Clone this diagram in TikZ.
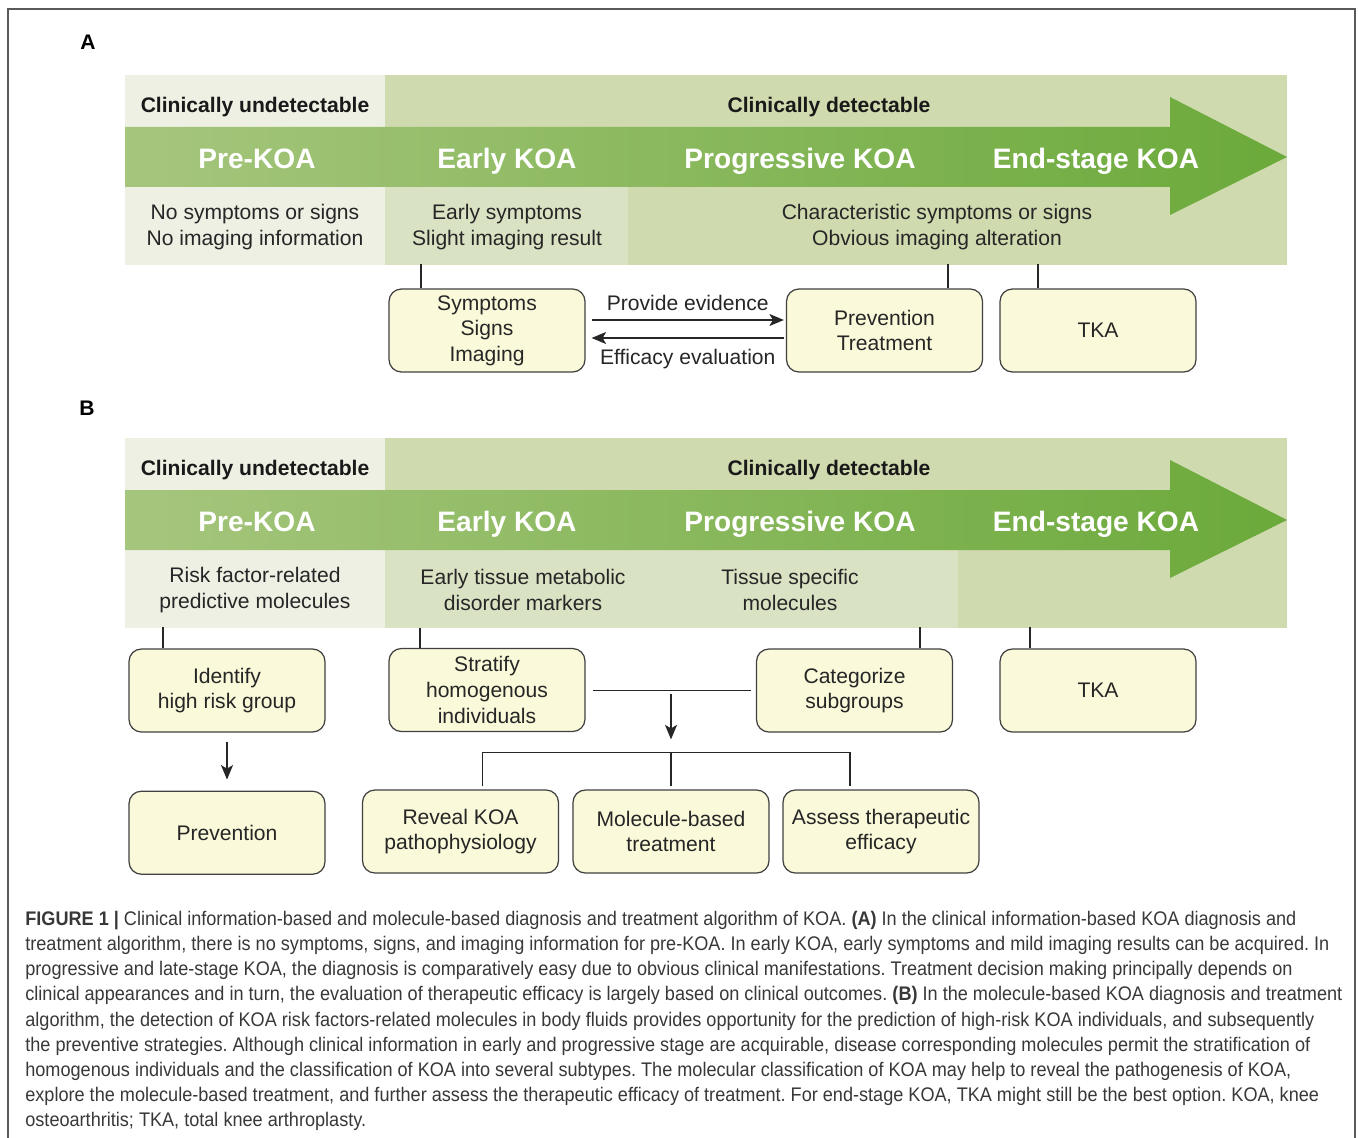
\documentclass[tikz,border=0pt]{standalone}
\usepackage{fontspec}
\setmainfont{Liberation Sans}
\newfontfamily\capfont[FakeStretch=0.92]{Liberation Sans}
\usetikzlibrary{arrows.meta,positioning}

\begin{document}
\begin{tikzpicture}[x=0.02cm,y=-0.02cm,
	box/.style={draw=boxline,fill=boxfill,rounded corners=7pt,line width=0.7pt,minimum width=3.92cm,minimum height=1.66cm,align=center,text=black!85,font=\fontsize{12}{14.6}\selectfont},
	stage/.style={text=white,text height=11.4pt,text depth=0pt,font=\bfseries\fontsize{16}{18}\selectfont},
	hdr/.style={text=black!90,text height=8.6pt,text depth=0pt,font=\bfseries\fontsize{12}{14}\selectfont},
	info/.style={align=center,text=black!85,font=\fontsize{12}{14.6}\selectfont},
	panel/.style={text=black,font=\bfseries\fontsize{12}{14}\selectfont},
	link/.style={draw=black!85,line width=0.95pt},
	arr/.style={link,-{Stealth[length=2.9mm,width=2.4mm,inset=0.7mm]}}]
		    \definecolor{pale}{rgb}{0.93,0.94,0.89}
		    \definecolor{lightgreen}{rgb}{0.855,0.885,0.77}
		    \definecolor{midgreen}{rgb}{0.81,0.855,0.685}
		    \definecolor{bandleft}{rgb}{0.65,0.775,0.49}
		    \definecolor{bandright}{rgb}{0.42,0.665,0.23}
		    \definecolor{boxfill}{rgb}{0.98,0.975,0.855}
		    \definecolor{boxline}{rgb}{0.25,0.25,0.25}
		    \definecolor{capgray}{rgb}{0.22,0.22,0.22}
		    \definecolor{framegray}{rgb}{0.35,0.35,0.35}
		    \useasboundingbox (0,0) rectangle (1358,1138);
		    \draw[framegray,line width=0.8pt] (8,1138) -- (8,9) -- (1355,9) -- (1355,1138);

		    \foreach \oy/\p/\xl in {0/a/628,363/b/958}{
			  \fill[pale] (125,75+\oy) rectangle (385,265+\oy);
			  \fill[midgreen] (385,75+\oy) rectangle (1287,265+\oy);
			  \fill[lightgreen] (385,187+\oy) rectangle (\xl,265+\oy);
			  \shade[left color=bandleft,right color=bandright] (125,127+\oy) -- (1170,127+\oy) -- (1170,97+\oy) -- (1287,157+\oy) -- (1170,215+\oy) -- (1170,187+\oy) -- (125,187+\oy) -- cycle;
			  \node[hdr] (undet\p) at (255,104.5+\oy) {Clinically undetectable};
			  \node[hdr] (det\p) at (829,104.5+\oy) {Clinically detectable};
			  \node[stage] (pre\p) at (257,158.5+\oy) {Pre-KOA};
			  \node[stage] (early\p) at (507,158.5+\oy) {Early KOA};
			  \node[stage] (prog\p) at (800,158.5+\oy) {Progressive KOA};
			  \node[stage] (end\p) at (1096,158.5+\oy) {End-stage KOA};
			  }

		    \node[panel] (labela) at (88,42) {A};
		    \node[info] (infopre) at (255,227) {No symptoms or signs\\No imaging information};
		    \node[info] (infoearly) at (507,227) {Early symptoms\\Slight imaging result};
		    \node[info] (infoprog) at (937,227) {Characteristic symptoms or signs\\Obvious imaging alteration};

		    \node[box] (sympt) at (487,330.5) {Symptoms\\Signs\\Imaging};
		    \node[box] (prevtreat) at (884.5,330.5) {Prevention\\Treatment};
		    \node[box] (tkaa) at (1098,330.5) {TKA};

		    \draw[link] ([xshift=-1.32cm]sympt.north) -- ++(0,-24);
		    \draw[link] ([xshift=1.27cm]prevtreat.north) -- ++(0,-24);
		    \draw[link] ([xshift=-1.2cm]tkaa.north) -- ++(0,-24);
		    \draw[arr] ([shift={(6,-10.5)}]sympt.east) -- ([shift={(-2,-10.5)}]prevtreat.west) node[midway,above=1.5pt,info] {Provide evidence};
		    \draw[arr] ([shift={(-2,7.5)}]prevtreat.west) -- ([shift={(6,7.5)}]sympt.east) node[midway,below=2.5pt,info] {Efficacy evaluation};

		    \node[panel] (labelb) at (87,408) {B};
		    \node[info] (molpre) at (255,590) {Risk factor-related\\predictive molecules};
		    \node[info] (molearly) at (523,590) {Early tissue metabolic\\disorder markers};
		    \node[info] (molprog) at (790,590) {Tissue specific\\molecules};

		    \node[box] (identify) at (227,690.5) {Identify\\high risk group};
		    \node[box] (stratify) at (487,690) {Stratify\\homogenous\\individuals};
		    \node[box] (categ) at (854.5,690.5) {Categorize\\subgroups};
		    \node[box] (tkab) at (1098,690.5) {TKA};
		    \node[box,below=1.16cm of identify] (prevent) {Prevention};
		    \node[box] (reveal) at (460.5,831.5) {Reveal KOA\\pathophysiology};
		    \node[box] (molec) at (671,831.5) {Molecule-based\\treatment};
		    \node[box] (assess) at (881,831.5) {Assess therapeutic\\efficacy};

		    \draw[link] ([xshift=-1.28cm]identify.north) -- ++(0,-21);
		    \draw[link] ([xshift=-1.34cm]stratify.north) -- ++(0,-20);
		    \draw[link] ([xshift=1.31cm]categ.north) -- ++(0,-21);
		    \draw[link] ([xshift=-1.36cm]tkab.north) -- ++(0,-21);
		    \draw[arr] ([shift={(0,9)}]identify.south) -- ([shift={(0,-11)}]prevent.north);
		    \draw[link] ([shift={(-5,0)}]categ.west) -- ([shift={(7,0)}]categ.west -| stratify.east);
		    \coordinate (fork) at ([shift={(0,-37)}]molec.north);
		    \draw[arr] ([shift={(0,-58)}]fork) -- ([shift={(0,-13)}]fork);
		    \draw[link] ([shift={(22,-3)}]reveal.north) |- (fork) -| ([shift={(-31,-3)}]assess.north);
		    \draw[link] (fork) -- ([shift={(0,-3)}]molec.north);

		    \node[anchor=north west,inner sep=0pt,align=left,text=capgray,font=\capfont\fontsize{11.2}{14.3}\selectfont\frenchspacing] (caption) at (25,911) {\textbf{FIGURE 1 |} Clinical information-based and molecule-based diagnosis and treatment algorithm of KOA. \textbf{(A)} In the clinical information-based KOA diagnosis and\\
treatment algorithm, there is no symptoms, signs, and imaging information for pre-KOA. In early KOA, early symptoms and mild imaging results can be acquired. In\\
progressive and late-stage KOA, the diagnosis is comparatively easy due to obvious clinical manifestations. Treatment decision making principally depends on\\
clinical appearances and in turn, the evaluation of therapeutic efficacy is largely based on clinical outcomes. \textbf{(B)} In the molecule-based KOA diagnosis and treatment\\
algorithm, the detection of KOA risk factors-related molecules in body fluids provides opportunity for the prediction of high-risk KOA individuals, and subsequently\\
the preventive strategies. Although clinical information in early and progressive stage are acquirable, disease corresponding molecules permit the stratification of\\
homogenous individuals and the classification of KOA into several subtypes. The molecular classification of KOA may help to reveal the pathogenesis of KOA,\\
explore the molecule-based treatment, and further assess the therapeutic efficacy of treatment. For end-stage KOA, TKA might still be the best option. KOA, knee\\
osteoarthritis; TKA, total knee arthroplasty.};
\end{tikzpicture}
\end{document}
